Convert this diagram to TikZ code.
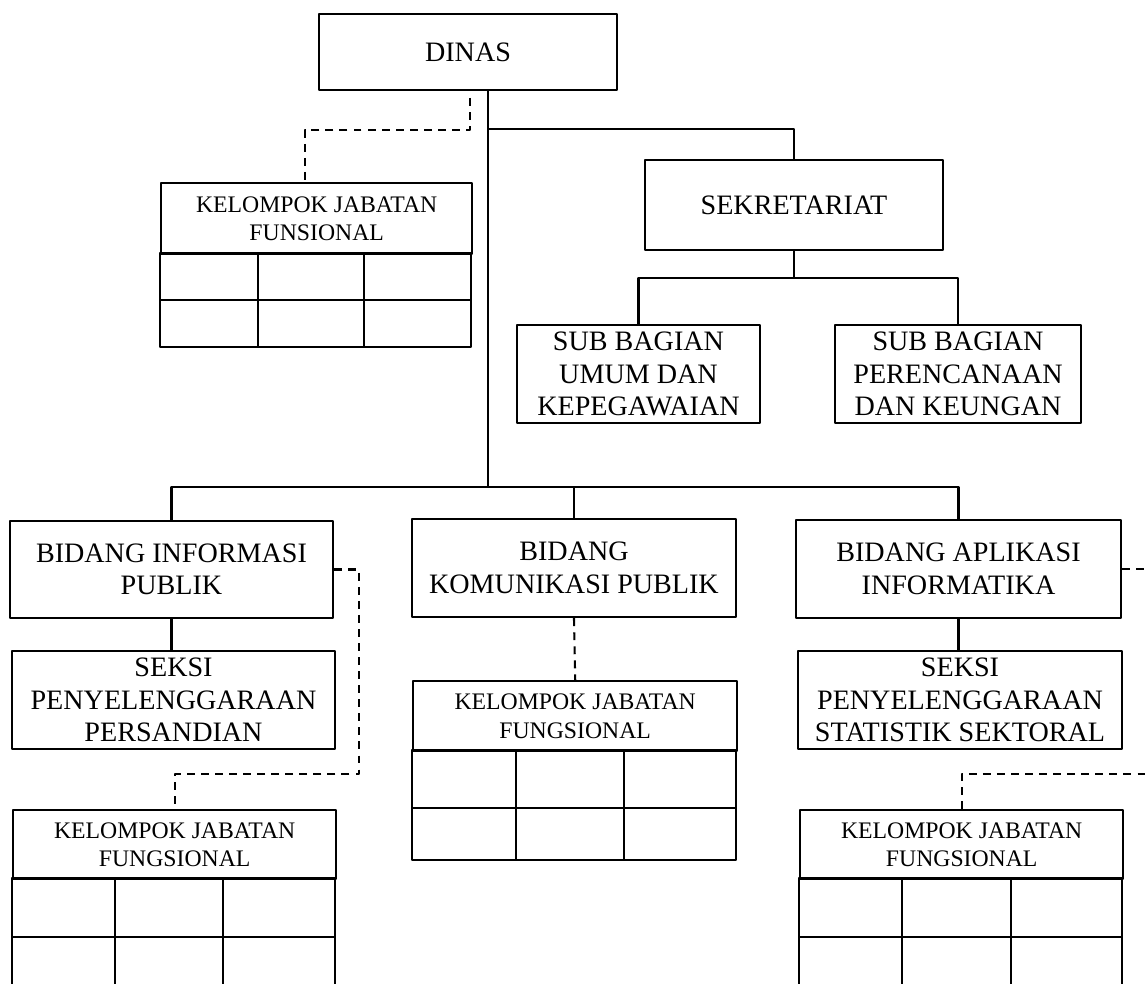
\documentclass[tikz,border=0pt]{standalone}
\usepackage{fontspec}
\setmainfont{Liberation Serif}

\begin{document}
\begin{tikzpicture}[x=0.02cm,y=-0.02cm, line join=round,
	box/.style={draw,line width=1.4pt,align=center,inner sep=2pt,font=\fontsize{16}{18.5}\selectfont},
	kjfhead/.style={draw,line width=1.4pt,align=center,anchor=north west,inner sep=2pt,font=\fontsize{13.5}{16}\selectfont},
	conn/.style={line width=1.2pt},
	dashline/.style={line width=1.2pt,dash pattern=on 4.5pt off 3.5pt}]
		%	\draw[color=gray!50,dashed] (0,0) grid[step=50] (1145,983);
		\useasboundingbox (0,0) rectangle (1145,983);
		\clip (0,0) rectangle (1145,983);
		% kotak utama
		\node[box,minimum width=5.96cm,minimum height=1.52cm] (dinas) at (468,52) {DINAS};
		\node[box,minimum width=5.96cm,minimum height=1.8cm] (sek) at (794,205) {SEKRETARIAT};
		\node[box,minimum width=4.86cm,minimum height=1.96cm] (sbu) at (638.5,374) {SUB BAGIAN\\UMUM DAN\\KEPEGAWAIAN};
		\node[box,minimum width=4.92cm,minimum height=1.96cm] (sbp) at (958,374) {SUB BAGIAN\\PERENCANAAN\\DAN KEUNGAN};
		\node[box,minimum width=6.46cm,minimum height=1.94cm] (bip) at (171.5,569.5) {BIDANG INFORMASI\\PUBLIK};
		\node[box,minimum width=6.48cm,minimum height=1.96cm] (bkp) at (574,568) {BIDANG\\KOMUNIKASI PUBLIK};
		\node[box,minimum width=6.5cm,minimum height=1.96cm] (bai) at (958.5,569) {BIDANG APLIKASI\\INFORMATIKA};
		\node[box,minimum width=6.46cm,minimum height=1.96cm] (spp) at (173.5,700) {SEKSI\\PENYELENGGARAAN\\PERSANDIAN};
		\node[box,minimum width=6.48cm,minimum height=1.96cm] (sss) at (960,700) {SEKSI\\PENYELENGGARAAN\\STATISTIK SEKTORAL};
		% kelompok jabatan fungsional
		\node[kjfhead,minimum width=6.22cm,minimum height=1.42cm] (kjf0) at (160,182) {KELOMPOK JABATAN\\FUNSIONAL};
		\draw[line width=1.4pt] (160,253) rectangle (471,347);
		\draw[conn] (160,300)--(471,300) (258,253)--(258,347) (364,253)--(364,347);
		\node[kjfhead,minimum width=6.46cm,minimum height=1.38cm] (kjf1) at (12,809) {KELOMPOK JABATAN\\FUNGSIONAL};
		\draw[line width=1.4pt] (12,878) rectangle (335,1000);
		\draw[conn] (12,937)--(335,937) (115,878)--(115,1000) (223,878)--(223,1000);
		\node[kjfhead,minimum width=6.48cm,minimum height=1.4cm] (kjf2) at (412,680) {KELOMPOK JABATAN\\FUNGSIONAL};
		\draw[line width=1.4pt] (412,750) rectangle (736,860);
		\draw[conn] (412,808)--(736,808) (516,750)--(516,860) (624,750)--(624,860);
		\node[kjfhead,minimum width=6.46cm,minimum height=1.38cm] (kjf3) at (799,809) {KELOMPOK JABATAN\\FUNGSIONAL};
		\draw[line width=1.4pt] (799,878) rectangle (1122,1000);
		\draw[conn] (799,937)--(1122,937) (902,878)--(902,1000) (1011,878)--(1011,1000);
		% garis komando
		\coordinate (bus) at (488,487);
		\coordinate (jt) at (488,129);
		\coordinate (sbar) at (794,278);
		\coordinate (offr) at (1160,0);
		\draw[conn] (dinas.south -| bus)--(bus);
		\draw[conn] (jt)-|(sek.north);
		\draw[conn] (sek.south)--(sbar);
		\draw[conn] (sbu.north)|-(sbar)-|(sbp.north);
		\draw[conn] (bip.north)|-(bus)-|(bai.north);
		\draw[conn] (bkp.north)--(bus -| bkp.north);
		\draw[conn] (bip.south)--(bip.south |- spp.north);
		\draw[conn] (bai.south)--(bai.south |- sss.north);
		% garis koordinasi
		\draw[dashline] (470,98)|-(305,130)--(305,0 |- kjf0.north);
		\draw[dashline] (bip.east)-|(359,774)-|(kjf1.north);
		\draw[dashline] (bkp.south)--(kjf2.north);
		\draw[dashline] (bai.east)--(bai.east -| offr);
		\draw[dashline] (kjf3.north)|-(offr |- 0,774);
		\end{tikzpicture}
\end{document}
